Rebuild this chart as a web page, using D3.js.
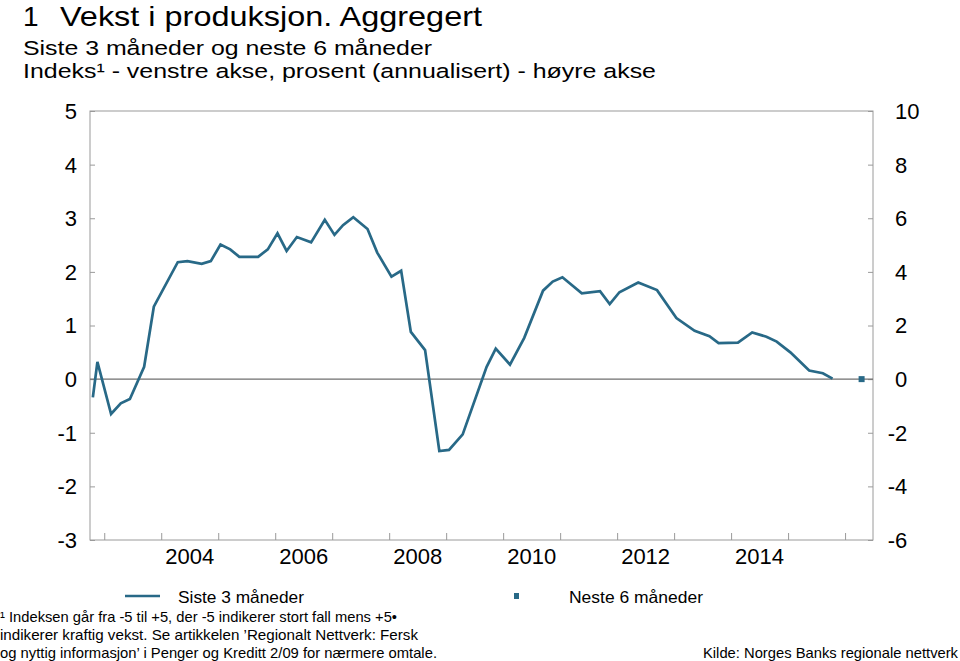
<!DOCTYPE html>
<html>
<head>
<meta charset="utf-8">
<script src="https://cdn.jsdelivr.net/npm/d3@7"></script>
<style>
  html, body { margin: 0; padding: 0; background: #fff; }
  svg { display: block; font-family: "Liberation Sans", Arial, sans-serif; }
</style>
</head>
<body>
<svg id="chart" width="960" height="661"></svg>
<script>
// ---- Data (decimal year of survey round, index value) ----
const dates = [2002.80, 2002.88, 2003.12, 2003.29, 2003.45, 2003.70, 2003.87, 2004.29, 2004.46, 2004.71,
  2004.87, 2005.04, 2005.21, 2005.37, 2005.70, 2005.87, 2006.04, 2006.20, 2006.38, 2006.63,
  2006.87, 2007.04, 2007.19, 2007.37, 2007.62, 2007.79, 2008.04, 2008.21, 2008.38, 2008.63,
  2008.88, 2009.05, 2009.29, 2009.71, 2009.87, 2010.12, 2010.37, 2010.70, 2010.87, 2011.04,
  2011.38, 2011.70, 2011.87, 2012.04, 2012.37, 2012.70, 2013.04, 2013.36, 2013.62, 2013.78,
  2014.12, 2014.37, 2014.62, 2014.80, 2015.04, 2015.37, 2015.61, 2015.78];
const siste3 = [-0.34, 0.32, -0.65, -0.45, -0.37, 0.23, 1.35, 2.18, 2.20, 2.15,
  2.20, 2.51, 2.42, 2.28, 2.28, 2.42, 2.72, 2.39, 2.65, 2.55,
  2.97, 2.69, 2.87, 3.02, 2.80, 2.36, 1.91, 2.02, 0.88, 0.54,
  -1.34, -1.32, -1.03, 0.23, 0.57, 0.27, 0.77, 1.65, 1.82, 1.90,
  1.60, 1.64, 1.40, 1.62, 1.80, 1.66, 1.14, 0.90, 0.80, 0.67,
  0.68, 0.87, 0.79, 0.70, 0.50, 0.16, 0.11, 0.01];
const neste6Date = [2016.29];
const neste6 = [0.0];        // on the right axis (prosent)
const leftTicks = [-3, -2, -1, 0, 1, 2, 3, 4, 5];
const rightTicks = [-6, -4, -2, 0, 2, 4, 6, 8, 10];
const yearTicks = [2003, 2004, 2005, 2006, 2007, 2008, 2009, 2010, 2011, 2012, 2013, 2014, 2015, 2016];
const yearLabels = [2004, 2006, 2008, 2010, 2012, 2014];

const svg = d3.select("#chart");
const L = 90, R = 873, T = 111, B = 540;
const x = d3.scaleLinear().domain([2002.75, 2016.49]).range([L, R]);
const yL = d3.scaleLinear().domain([-3, 5]).range([B, T]);
const yR = d3.scaleLinear().domain([-6, 10]).range([B, T]);
const frameCol = "#9a9a9a";
const lineCol = "#286987";

// Titles
const title = svg.append("g").attr("fill", "#000");
title.append("text").attr("x", 23).attr("y", 26).attr("font-size", 28).text("1");
title.append("text").attr("x", 60).attr("y", 26).attr("font-size", 28)
  .attr("textLength", 422).attr("lengthAdjust", "spacingAndGlyphs").text("Vekst i produksjon. Aggregert");
title.append("text").attr("x", 23).attr("y", 55).attr("font-size", 20.5)
  .attr("textLength", 409).attr("lengthAdjust", "spacingAndGlyphs").text("Siste 3 måneder og neste 6 måneder");
title.append("text").attr("x", 23).attr("y", 78).attr("font-size", 20.5)
  .attr("textLength", 633).attr("lengthAdjust", "spacingAndGlyphs").text("Indeks¹ - venstre akse, prosent (annualisert) - høyre akse");

// Frame
svg.append("rect").attr("x", L).attr("y", T).attr("width", R - L).attr("height", B - T)
  .attr("fill", "none").attr("stroke", frameCol).attr("stroke-width", 1);

// Left axis
const gl = svg.append("g").attr("transform", `translate(${L},0)`)
  .call(d3.axisRight(yL).tickValues(leftTicks).tickSize(5).tickFormat(""));
gl.select(".domain").remove();
gl.selectAll("line").attr("stroke", frameCol);
svg.append("g").selectAll("text").data(leftTicks).join("text")
  .attr("x", 77).attr("y", d => yL(d)).attr("dy", "0.36em").attr("text-anchor", "end")
  .attr("font-size", 22).text(d => d < 0 ? "-" + Math.abs(d) : d);

// Right axis
const gr = svg.append("g").attr("transform", `translate(${R},0)`)
  .call(d3.axisLeft(yR).tickValues(rightTicks).tickSize(5).tickFormat(""));
gr.select(".domain").remove();
gr.selectAll("line").attr("stroke", frameCol);
svg.append("g").selectAll("text").data(rightTicks).join("text")
  .attr("x", d => d < 0 ? 887.7 : 895).attr("y", d => yR(d)).attr("dy", "0.36em")
  .attr("font-size", 22).text(d => d < 0 ? "-" + Math.abs(d) : d);

// Bottom axis
const gb = svg.append("g").attr("transform", `translate(0,${B})`)
  .call(d3.axisTop(x).tickValues(yearTicks).tickSize(7).tickFormat(""));
gb.select(".domain").remove();
gb.selectAll("line").attr("stroke", frameCol);
svg.append("g").selectAll("text").data(yearLabels).join("text")
  .attr("x", d => x(d + 0.5)).attr("y", 564).attr("text-anchor", "middle")
  .attr("font-size", 22).text(d => d);

// Zero line
svg.append("line").attr("x1", L).attr("x2", R).attr("y1", yL(0)).attr("y2", yL(0))
  .attr("stroke", "#6f6f6f").attr("stroke-width", 1.2);

// Series line
const pts = dates.map((d, i) => [d, siste3[i]]);
svg.append("path").datum(pts)
  .attr("d", d3.line().x(d => x(d[0])).y(d => yL(d[1])))
  .attr("fill", "none").attr("stroke", lineCol).attr("stroke-width", 2.7)
  .attr("stroke-linejoin", "miter");

// Neste 6 måneder marker (right axis)
svg.append("g").selectAll("rect").data(neste6Date.map((d, i) => [d, neste6[i]])).join("rect")
  .attr("x", d => x(d[0]) - 3).attr("y", d => yR(d[1]) - 3).attr("width", 6).attr("height", 6)
  .attr("fill", lineCol);

// Legend
svg.append("line").attr("x1", 125).attr("x2", 160).attr("y1", 596).attr("y2", 596)
  .attr("stroke", lineCol).attr("stroke-width", 2.7);
svg.append("text").attr("x", 178).attr("y", 603).attr("font-size", 16.5)
  .attr("textLength", 126).attr("lengthAdjust", "spacingAndGlyphs").text("Siste 3 måneder");
svg.append("rect").attr("x", 514).attr("y", 593).attr("width", 5).attr("height", 6).attr("fill", lineCol);
svg.append("text").attr("x", 569).attr("y", 603).attr("font-size", 16.5)
  .attr("textLength", 134).attr("lengthAdjust", "spacingAndGlyphs").text("Neste 6 måneder");

// Footnotes
const fn = svg.append("g").attr("font-size", 14.5);
fn.append("text").attr("x", 0).attr("y", 622).attr("textLength", 397).attr("lengthAdjust", "spacingAndGlyphs")
  .text("¹ Indeksen går fra -5 til +5, der -5 indikerer stort fall mens +5•");
fn.append("text").attr("x", 0).attr("y", 640).attr("textLength", 418).attr("lengthAdjust", "spacingAndGlyphs")
  .text("indikerer kraftig vekst. Se artikkelen ’Regionalt Nettverk: Fersk");
fn.append("text").attr("x", 0).attr("y", 658).attr("textLength", 437).attr("lengthAdjust", "spacingAndGlyphs")
  .text("og nyttig informasjon’ i Penger og Kreditt 2/09 for nærmere omtale.");
fn.append("text").attr("x", 958).attr("y", 658).attr("text-anchor", "end")
  .attr("textLength", 255).attr("lengthAdjust", "spacingAndGlyphs")
  .text("Kilde: Norges Banks regionale nettverk");
</script>
</body>
</html>
